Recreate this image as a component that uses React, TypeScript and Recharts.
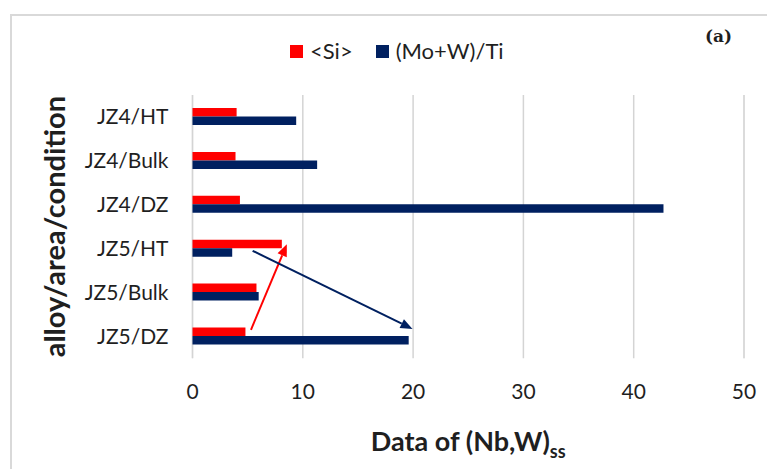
import React from 'react';
import { BarChart, Bar, XAxis, YAxis, CartesianGrid, Legend, ReferenceLine, Label } from 'recharts';

// Alloy / area / condition categories, listed top to bottom
const categories = ['JZ4/HT', 'JZ4/Bulk', 'JZ4/DZ', 'JZ5/HT', 'JZ5/Bulk', 'JZ5/DZ'];
// <Si> content of the (Nb,W)ss solid solution
const siValues = [4.0, 3.9, 4.3, 8.1, 5.8, 4.8];
// (Mo+W)/Ti ratio
const moWTiValues = [9.4, 11.3, 42.7, 3.6, 6.0, 19.6];

const seriesNames = ['<Si>', '(Mo+W)/Ti'];
const majorTicks = [0, 10, 20, 30, 40, 50];
const minorTicks = [0, 2, 4, 6, 8, 10, 12, 14, 16, 18, 20, 22, 24, 26, 28, 30, 32, 34, 36, 38, 40, 42, 44, 46, 48, 50];

// Trend arrows: x in data units, y in category-row units counted down from the top edge
// (a numeric Y axis in a vertical-layout chart runs top to bottom)
const arrows = [
  { key: 'si', color: '#FF0000', from: [5.3, 5.35], to: [8.55, 3.4] },
  { key: 'ratio', color: '#002060', from: [5.45, 3.55], to: [19.95, 5.33] },
];

const data = categories.map((name, i) => ({ name, si: siValues[i], ratio: moWTiValues[i] }));

const FONT = 'Lato, "Noto Sans", sans-serif';
const TEXT = '#1f1f1f';

const arrowShape = (color: string) => (props: any) => {
  const { x1, y1, x2, y2 } = props;
  if ([x1, y1, x2, y2].some((v) => typeof v !== 'number' || Number.isNaN(v))) return <g />;
  const ang = Math.atan2(y2 - y1, x2 - x1);
  const len = 12;
  const half = 5;
  const c = Math.cos(ang);
  const s = Math.sin(ang);
  const bx = x2 - len * c;
  const by = y2 - len * s;
  const pts = `${x2},${y2} ${bx + half * s},${by - half * c} ${bx - half * s},${by + half * c}`;
  return (
    <g>
      <line x1={x1} y1={y1} x2={bx} y2={by} stroke={color} strokeWidth={2} />
      <polygon points={pts} fill={color} />
    </g>
  );
};

const renderLegend = (props: any) => {
  const items = [...(props.payload || [])].sort(
    (a: any, b: any) => seriesNames.indexOf(a.value) - seriesNames.indexOf(b.value)
  );
  return (
    <div style={{ display: 'flex', alignItems: 'center', fontFamily: FONT, fontSize: 22, color: TEXT }}>
      {items.map((entry: any, i: number) => (
        <div key={entry.value} style={{ display: 'flex', alignItems: 'center', marginLeft: i === 0 ? 0 : 23 }}>
          <span style={{ display: 'inline-block', width: 13, height: 13, background: entry.color, marginRight: 7 }} />
          <span style={{ lineHeight: '22px' }}>{entry.value}</span>
        </div>
      ))}
    </div>
  );
};

const renderYTitle = (props: any) => {
  const { viewBox } = props;
  const x = viewBox.x + 65;
  const y = viewBox.y + viewBox.height / 2;
  return (
    <text x={x} y={y} transform={`rotate(-90 ${x} ${y})`} textAnchor="middle"
      fontFamily={FONT} fontWeight={700} fontSize={29} fill={TEXT}>
      alloy/area/condition
    </text>
  );
};

const renderXTitle = (props: any) => {
  const { viewBox } = props;
  const x = viewBox.x + viewBox.width / 2;
  const y = viewBox.y + 93;
  return (
    <text x={x} y={y} textAnchor="middle" fontFamily={FONT} fontWeight={700} fontSize={27} fill={TEXT}>
      <tspan>Data of (Nb,W)</tspan>
      <tspan fontSize={18} dy={7}>ss</tspan>
    </text>
  );
};

export default function App() {
  return (
    <div style={{ position: 'absolute', left: 0, top: 0, width: 767, height: 469, overflow: 'hidden', background: '#ffffff' }}>
      <div style={{ position: 'absolute', left: 10, top: 14, width: 900, height: 600, border: '2px solid #d9d9d9', boxSizing: 'border-box' }} />
      <div style={{ position: 'absolute', left: 705, top: 27, fontFamily: '"DejaVu Serif", serif', fontWeight: 700, fontSize: 17, lineHeight: '19px', color: TEXT }}>
        (a)
      </div>
      <div style={{ position: 'absolute', left: 0, top: 0 }}>
        <BarChart width={767} height={469} data={data} layout="vertical" barGap={0}
          margin={{ top: 95, right: 23, bottom: 0, left: 0 }}>
          <XAxis xAxisId="minor" type="number" domain={[0, 50]} ticks={minorTicks} hide />
          <CartesianGrid xAxisId="minor" horizontal={false} stroke="#ebebeb" strokeWidth={1.5} />
          <CartesianGrid horizontal={false} stroke="#d4d4d4" strokeWidth={1.5} />
          <XAxis type="number" domain={[0, 50]} ticks={majorTicks} height={110.7}
            axisLine={false} tickLine={false} tickSize={0} tickMargin={26}
            tick={{ fontFamily: FONT, fontSize: 21, fill: TEXT }}>
            <Label content={renderXTitle} />
          </XAxis>
          <YAxis type="category" dataKey="name" width={192.5} axisLine={false} tickLine={false}
            tickSize={0} tickMargin={24} tick={{ fontFamily: FONT, fontSize: 21, fill: TEXT }}>
            <Label content={renderYTitle} />
          </YAxis>
          <YAxis yAxisId="rows" type="number" dataKey="rowSlot" domain={[0, 6]} allowDataOverflow hide />
          <Legend verticalAlign="middle" align="center" layout="horizontal" content={renderLegend}
            wrapperStyle={{ left: 290, top: 40, width: 'auto' }} />
          <Bar dataKey="si" name={seriesNames[0]} fill="#FF0000" barSize={8.5} isAnimationActive={false} />
          <Bar dataKey="ratio" name={seriesNames[1]} fill="#002060" barSize={8.5} isAnimationActive={false} />
          {arrows.map((a) => (
            <ReferenceLine key={a.key} yAxisId="rows" ifOverflow="visible"
              segment={[{ x: a.from[0], y: a.from[1] }, { x: a.to[0], y: a.to[1] }]}
              shape={arrowShape(a.color)} />
          ))}
        </BarChart>
      </div>
    </div>
  );
}
